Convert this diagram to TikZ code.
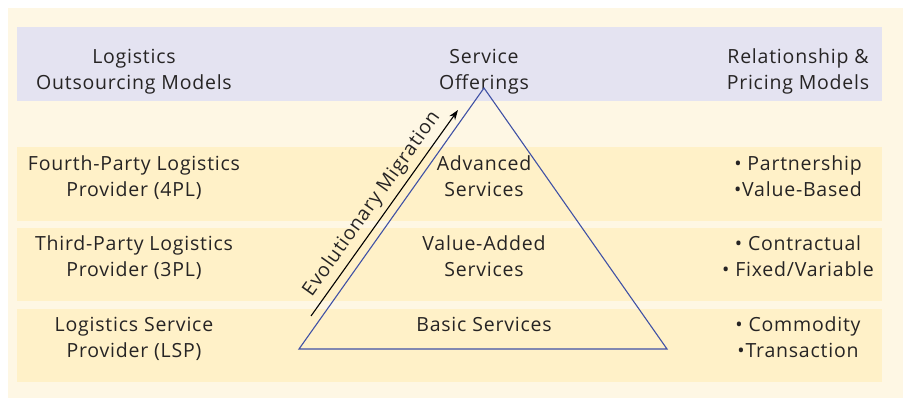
\documentclass[tikz,border=0pt]{standalone}
\usepackage{fontspec}
\setmainfont{Open Sans}[LetterSpace=4]
\usetikzlibrary{arrows.meta}

\definecolor{pageBg}{RGB}{254,247,228}
\definecolor{headBg}{RGB}{228,227,241}
\definecolor{rowBg}{RGB}{255,241,200}
\definecolor{triBlue}{RGB}{63,81,165}
\definecolor{inkGray}{RGB}{38,36,36}

\begin{document}
\begin{tikzpicture}[x=1pt, y=1pt,
		textStyle/.style={align=center, anchor=base, inner sep=0pt, text=inkGray, font=\fontsize{19.5}{26}\selectfont},
		bandStyle/.style={fill=rowBg, draw=none},
		triStyle/.style={draw=triBlue, line width=1.1pt, line join=miter},
		migStyle/.style={draw=black, line width=1.1pt, -{Stealth[length=10pt, width=7pt]}}]
			\useasboundingbox (0,0) rectangle (903,-398);

			% Backgrounds
			\fill[pageBg] (8,-8) rectangle (903,-398);
			\fill[headBg] (17,-27) rectangle (882,-101);
			\fill[bandStyle] (17,-147) rectangle (882,-221);
			\fill[bandStyle] (17,-228) rectangle (882,-301);
			\fill[bandStyle] (17,-309) rectangle (882,-382);

			% Header (base anchor sits on the last line)
			\node[textStyle] (modelsHead) at (134,-90) {Logistics\\Outsourcing Models};
			\node[textStyle] (offerHead) at (484,-90) {Service\\Offerings};
			\node[textStyle] (pricingHead) at (798,-90) {Relationship \&\\Pricing Models};

			% Triangle
			\coordinate (apex) at (484,-88);
			\coordinate (baseL) at (299,-349);
			\coordinate (baseR) at (667,-349);
			\draw[triStyle] (apex) -- (baseR) -- (baseL) -- cycle;

			% Migration arrow
			\coordinate (migStart) at (311,-316);
			\coordinate (migEnd) at (458,-110);
			\draw[migStyle] (migStart) -- node[sloped, above=5pt, inner sep=0pt, text=inkGray, font=\fontsize{19.5}{22}\selectfont] (migLabel) {Evolutionary Migration} (migEnd);

			% Layer 4PL
			\node[textStyle] (fourPL) at (134,-197) {Fourth-Party Logistics\\Provider (4PL)};
			\node[textStyle] (advanced) at (484,-197) {Advanced\\Services};
			\node[textStyle] (partner) at (798,-197) {\textbullet\ Partnership\\\textbullet Value-Based};

			% Layer 3PL
			\node[textStyle] (threePL) at (134,-277) {Third-Party Logistics\\Provider (3PL)};
			\node[textStyle] (valueAdded) at (484,-277) {Value-Added\\Services};
			\node[textStyle] (contract) at (798,-277) {\textbullet\ Contractual\\\textbullet\ Fixed/Variable};

			% Layer LSP
			\node[textStyle] (lsp) at (134,-357) {Logistics Service\\Provider (LSP)};
			\node[textStyle] (basic) at (484,-331) {Basic Services};
			\node[textStyle] (commodity) at (798,-357) {\textbullet\ Commodity\\\textbullet Transaction};

		\end{tikzpicture}
\end{document}
